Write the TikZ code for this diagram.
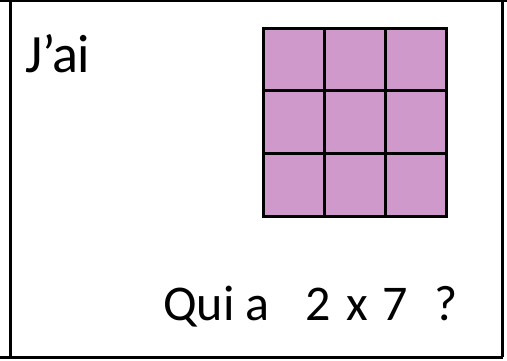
\documentclass[tikz,border=0pt]{standalone}
\usepackage{fontspec}
\setmainfont{Carlito}
\usepackage{tikz}
\usetikzlibrary{positioning}
\definecolor{cardborder}{HTML}{000000}
\definecolor{cellfill}{HTML}{CF99CB}
\tikzset{
    card frame/.style={
        draw=cardborder, line width=3pt
    },
    card text/.style={
        anchor=base west, inner sep=0pt,
        font=\fontsize{#1}{60}\selectfont
    },
    card text/.default={54},
    grid line/.style={
        draw=cardborder, line width=3pt, line cap=rect
    },
}

\begin{document}
\begin{tikzpicture}[x=1pt, y=-1pt]
    \useasboundingbox (0,0) rectangle (507,360);

    % Card frame
    \draw[card frame] (0,0) -- (507,0);
    \draw[card frame] (0,357) -- (502.5,357);
    \draw[card frame] (10.5,0) -- (10.5,357);
    \draw[card frame] (502.5,0) -- (502.5,357);

    % Texts
    \node[card text] (jai) at (25,72) {J’ai};
    \node[card text=50] (question) at (163,320)
        {Qui a\hspace{36pt}2\hspace{15pt}x\hspace{15pt}7\hspace{26pt}?};

    % Array of 3 x 3 cells
    \fill[cellfill] (263,27) rectangle (446.5,216.5);
    \foreach \i in {0,...,3} {
        \draw[grid line] ({263+61.2*\i},28) -- ({263+61.2*\i},216.5);
        \draw[grid line] (263,{28+62.8*\i}) -- (446.5,{28+62.8*\i});
    }

\end{tikzpicture}
\end{document}
